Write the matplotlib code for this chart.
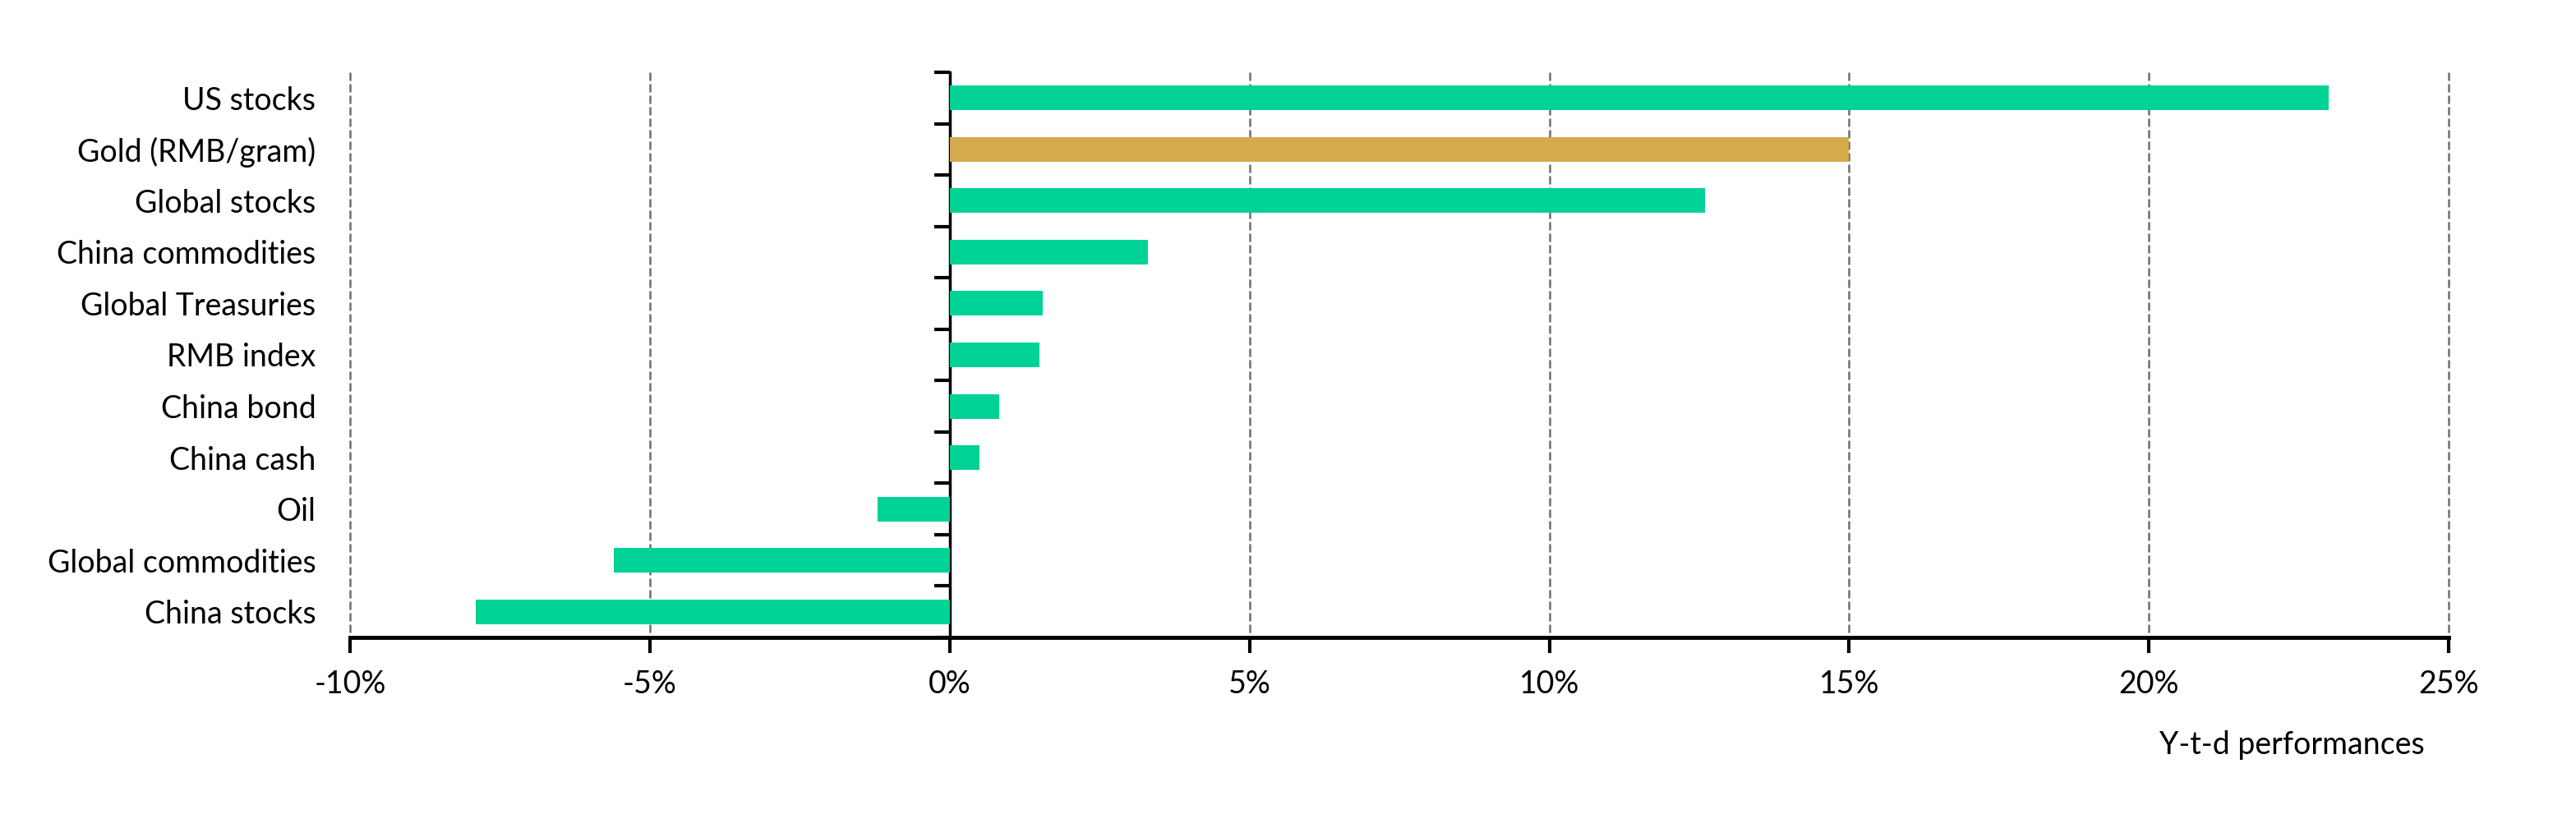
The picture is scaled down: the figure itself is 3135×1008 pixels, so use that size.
import numpy as np
import matplotlib
matplotlib.use("Agg")
import matplotlib.pyplot as plt

# categories, top to bottom
assets = ["US stocks", "Gold (RMB/gram)", "Global stocks", "China commodities",
          "Global Treasuries", "RMB index", "China bond", "China cash", "Oil",
          "Global commodities", "China stocks"]
# year-to-date performance, %
ytd = [23.0, 15.0, 12.6, 3.3, 1.55, 1.5, 0.82, 0.5, -1.2, -5.6, -7.9]
highlight = "Gold (RMB/gram)"
x_ticks = [-10, -5, 0, 5, 10, 15, 20, 25]

green = "#00D296"
gold = "#D5AA4C"

plt.rcParams["font.family"] = ["Lato", "DejaVu Sans"]

fig = plt.figure(figsize=(31.35, 10.08), dpi=100)
ax = fig.add_axes([0.1359, 0.2302, 0.8147, 0.6825])

pos = np.arange(len(assets))
colors = [gold if a == highlight else green for a in assets]
ax.barh(pos, ytd, height=0.48, color=colors, zorder=3)

xmin, xmax = x_ticks[0], x_ticks[-1]
ax.set_xlim(xmin, xmax)
ax.set_ylim(len(assets) - 0.5, -0.5)

# dashed vertical gridlines (not clipped so the edge ones show fully)
ax.set_xticks(x_ticks)
ax.set_xticklabels(["%d%%" % t for t in x_ticks])
grid_x = [t for t in x_ticks if t != 0]
ax.vlines(grid_x, -0.5, len(assets) - 0.5, colors="#6E6E6E",
          linestyles=[(0, (4, 1.6))], linewidth=1.8, zorder=1, clip_on=False)

for s in ["top", "right", "left"]:
    ax.spines[s].set_visible(False)
ax.spines["bottom"].set_linewidth(3.5)
ax.spines["bottom"].set_zorder(4)
ax.tick_params(axis="x", direction="out", length=14, width=3, pad=14, labelsize=27)

# category labels on the left edge of the plot
ax.set_yticks(pos)
ax.set_yticklabels(assets)
ax.tick_params(axis="y", length=0, pad=30, labelsize=27)

# zero axis with ticks between categories
zero_axis = ax.secondary_yaxis((0 - xmin) / (xmax - xmin))
zero_axis.set_yticks(np.arange(len(assets) + 1) - 0.5)
zero_axis.set_yticklabels([])
zero_axis.spines["left"].set_linewidth(2.5)
zero_axis.tick_params(axis="y", direction="out", length=14, width=3)

fig.text(0.9413, 0.10, "Y-t-d performances", ha="right", va="center", fontsize=27)

fig.savefig("out.png", dpi=100)
